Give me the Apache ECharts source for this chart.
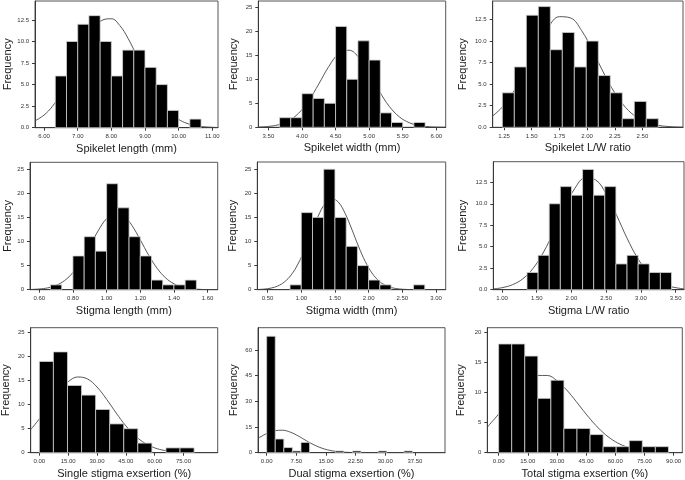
<!DOCTYPE html>
<html>
<head>
<meta charset="utf-8">
<title>Spikelet and stigma histograms</title>
<script src="https://cdn.jsdelivr.net/npm/echarts@6/dist/echarts.min.js"></script>
<style>
  html, body {margin:0; padding:0; background:#fff;}
  #chart {width:685px; height:480px;}
</style>
</head>
<body>
<div id="chart"></div>
<script>
// ---- data ----
// Spikelet length (mm)
var lenStart = 6.3333, lenWidth = 0.3333;
var lenCounts = [6, 10, 12, 13, 10, 6, 9, 9, 7, 5, 2, 0, 1];
var lenCurveX = [5.73, 6.0, 6.25, 6.5, 6.75, 7.0, 7.25, 7.5, 7.75, 8.0, 8.25, 8.5, 8.75, 9.0, 9.25, 9.5, 9.75, 10.0, 10.25, 10.5, 10.75, 11.0, 11.17];
var lenCurveY = [0.8, 1.47, 2.49, 3.92, 5.74, 7.79, 9.82, 11.5, 12.51, 12.64, 11.86, 10.34, 8.37, 6.3, 4.4, 2.85, 1.72, 0.96, 0.5, 0.24, 0.11, 0.05, 0.02];
var lenXTicks = [6, 7, 8, 9, 10, 11];

// Spikelet width (mm)
var widStart = 3.6667, widWidth = 0.16667;
var widCounts = [2, 2, 7, 6, 5, 21, 10, 18, 14, 3, 1, 0, 1];
var widCurveX = [3.35, 3.5, 3.65, 3.8, 3.95, 4.1, 4.25, 4.4, 4.55, 4.7, 4.85, 5.0, 5.15, 5.3, 5.45, 5.6, 5.75, 5.9, 6.05, 6.14];
var widCurveY = [0.05, 0.18, 0.53, 1.34, 2.93, 5.53, 9.01, 12.67, 15.36, 16.05, 14.47, 11.26, 7.55, 4.36, 2.18, 0.94, 0.35, 0.11, 0.03, 0.01];
var widXTicks = [3.5, 4, 4.5, 5, 5.5, 6];

// Spikelet L/W ratio
var slwStart = 1.235, slwWidth = 0.1083;
var slwCounts = [4, 7, 13, 14, 9, 11, 7, 10, 6, 4, 1, 3, 1];
var slwCurveX = [1.148, 1.25, 1.35, 1.45, 1.55, 1.65, 1.75, 1.85, 1.95, 2.05, 2.15, 2.25, 2.35, 2.45, 2.55, 2.65, 2.75, 2.866];
var slwCurveY = [1.31, 2.56, 4.42, 6.81, 9.4, 11.61, 12.83, 12.69, 11.23, 8.9, 6.3, 4.0, 2.27, 1.15, 0.52, 0.21, 0.08, 0.02];
var slwXTicks = [1.25, 1.5, 1.75, 2, 2.25, 2.5];

// Stigma length (mm)
var stlStart = 0.6667, stlWidth = 0.06667;
var stlCounts = [1, 0, 7, 11, 8, 22, 17, 11, 7, 2, 1, 1, 2];
var stlCurveX = [0.545, 0.6, 0.65, 0.7, 0.75, 0.8, 0.85, 0.9, 0.95, 1.0, 1.05, 1.1, 1.15, 1.2, 1.25, 1.3, 1.35, 1.4, 1.45, 1.5, 1.55, 1.6, 1.66];
var stlCurveY = [0.04, 0.15, 0.38, 0.9, 1.89, 3.56, 6.0, 9.06, 12.23, 14.77, 15.97, 15.44, 13.37, 10.35, 7.17, 4.45, 2.47, 1.23, 0.54, 0.22, 0.08, 0.02, 0];
var stlXTicks = [0.6, 0.8, 1.0, 1.2, 1.4, 1.6];

// Stigma width (mm)
var stwStart = 0.8333, stwWidth = 0.16667;
var stwCounts = [1, 16, 15, 25, 15, 9, 5, 2, 1, 0, 0, 1];
var stwCurveX = [0.347, 0.45, 0.55, 0.65, 0.75, 0.85, 0.95, 1.05, 1.15, 1.25, 1.35, 1.45, 1.55, 1.65, 1.75, 1.85, 1.95, 2.05, 2.15, 2.25, 2.35, 2.45, 2.55, 2.7, 3.144];
var stwCurveY = [0.04, 0.13, 0.33, 0.77, 1.61, 3.07, 5.31, 8.32, 11.82, 15.24, 17.82, 18.9, 18.17, 15.85, 12.54, 8.99, 5.85, 3.45, 1.85, 0.9, 0.4, 0.16, 0.06, 0.01, 0];
var stwXTicks = [0.5, 1, 1.5, 2, 2.5, 3];

// Stigma L/W ratio
var sglStart = 1.36, sglWidth = 0.16;
var sglCounts = [2, 4, 10, 12, 11, 14, 11, 12, 3, 4, 3, 2, 2];
var sglCurveX = [0.875, 1.0, 1.15, 1.3, 1.45, 1.6, 1.75, 1.9, 2.05, 2.2, 2.35, 2.5, 2.65, 2.8, 2.95, 3.1, 3.25, 3.4, 3.55, 3.62];
var sglCurveY = [0.1, 0.23, 0.58, 1.27, 2.51, 4.4, 6.87, 9.55, 11.81, 13.02, 12.77, 11.15, 8.67, 6.0, 3.7, 2.03, 0.99, 0.43, 0.17, 0.1];
var sglXTicks = [1, 1.5, 2, 2.5, 3, 3.5];

// Single stigma exsertion (%)
var sseStart = 0, sseWidth = 7.32;
var sseCounts = [19, 21, 14, 12, 9, 6, 5, 2, 0, 1, 1];
var sseCurveX = [-4.5, 0, 5, 10, 15, 20, 25, 30, 35, 40, 45, 50, 55, 60, 65, 70, 75, 80, 85, 92.8];
var sseCurveY = [4.82, 7.04, 9.87, 12.64, 14.77, 15.77, 15.37, 13.68, 11.13, 8.26, 5.6, 3.47, 1.96, 1.01, 0.48, 0.21, 0.08, 0.03, 0.01, 0];
var sseXTicks = [0, 15, 30, 45, 60, 75];

// Dual stigma exsertion (%)
var dseStart = 0, dseWidth = 2.17;
var dseCounts = [68, 8, 3, 1, 6, 0, 0, 0, 1, 0, 1, 0, 0, 1, 0, 0, 1];
var dseCurveX = [-2.19, 0, 2, 4, 6, 8, 10, 12, 14, 16, 18, 20, 22, 24, 27, 45.1];
var dseCurveY = [8.4, 11.18, 12.83, 13.13, 11.98, 9.74, 7.06, 4.56, 2.63, 1.35, 0.62, 0.25, 0.09, 0.03, 0, 0];
var dseXTicks = [0, 7.5, 15, 22.5, 30, 37.5];

// Total stigma exsertion (%)
var tseStart = 0, tseWidth = 6.72;
var tseCounts = [18, 18, 16, 9, 12, 4, 4, 3, 1, 1, 2, 1, 1];
var tseCurveX = [-5.83, 0, 5, 10, 15, 20, 25, 30, 35, 40, 45, 50, 55, 60, 65, 70, 75, 80, 85, 90, 94.5];
var tseCurveY = [4.24, 6.4, 8.44, 10.39, 11.93, 12.79, 12.79, 11.93, 10.39, 8.44, 6.4, 4.53, 2.99, 1.84, 1.06, 0.57, 0.28, 0.13, 0.06, 0.02, 0.01];
var tseXTicks = [0, 15, 30, 45, 60, 75, 90];

var yTicks125 = [0, 2.5, 5, 7.5, 10, 12.5];
var yTicks25 = [0, 5, 10, 15, 20, 25];
var yTicks60 = [0, 15, 30, 45, 60];
var yTicks20 = [0, 5, 10, 15, 20];

// ---- panel setup ----
var panels = [
  {title: 'Spikelet length (mm)', start: lenStart, width: lenWidth, counts: lenCounts, cx: lenCurveX, cy: lenCurveY, xt: lenXTicks, yt: yTicks125, xmin: 5.73, xmax: 11.17, ymax: 14.7, ydec: 1,
   box: [35, 1, 183, 126.7], gap: 21.5},
  {title: 'Spikelet width (mm)', start: widStart, width: widWidth, counts: widCounts, cx: widCurveX, cy: widCurveY, xt: widXTicks, yt: yTicks25, xmin: 3.35, xmax: 6.14, ymax: 26.3, ydec: 0,
   box: [258.3, 1, 187.4, 126.3], gap: 19},
  {title: 'Spikelet L/W ratio', start: slwStart, width: slwWidth, counts: slwCounts, cx: slwCurveX, cy: slwCurveY, xt: slwXTicks, yt: yTicks125, xmin: 1.148, xmax: 2.866, ymax: 14.65, ydec: 1,
   box: [492.7, 1, 190.3, 126.3], gap: 24},
  {title: 'Stigma length (mm)', start: stlStart, width: stlWidth, counts: stlCounts, cx: stlCurveX, cy: stlCurveY, xt: stlXTicks, yt: yTicks25, xmin: 0.545, xmax: 1.66, ymax: 26.45, ydec: 0,
   box: [30, 162.3, 187.7, 127.4], gap: 16.5},
  {title: 'Stigma width (mm)', start: stwStart, width: stwWidth, counts: stwCounts, cx: stwCurveX, cy: stwCurveY, xt: stwXTicks, yt: yTicks25, xmin: 0.347, xmax: 3.144, ymax: 26.5, ydec: 0,
   box: [257.3, 162, 188.4, 127.7], gap: 18.5},
  {title: 'Stigma L/W ratio', start: sglStart, width: sglWidth, counts: sglCounts, cx: sglCurveX, cy: sglCurveY, xt: sglXTicks, yt: yTicks125, xmin: 0.875, xmax: 3.62, ymax: 14.9, ydec: 1,
   box: [493.3, 161.7, 190.7, 128], gap: 24.5},
  {title: 'Single stigma exsertion (%)', start: sseStart, width: sseWidth, counts: sseCounts, cx: sseCurveX, cy: sseCurveY, xt: sseXTicks, yt: yTicks25, xmin: -4.5, xmax: 92.8, ymax: 26.04, ydec: 0,
   box: [30.7, 327.7, 187, 125], gap: 19},
  {title: 'Dual stigma exsertion (%)', start: dseStart, width: dseWidth, counts: dseCounts, cx: dseCurveX, cy: dseCurveY, xt: dseXTicks, yt: yTicks60, xmin: -2.19, xmax: 45.1, ymax: 73, ydec: 0,
   box: [258, 327.7, 187, 125], gap: 19},
  {title: 'Total stigma exsertion (%)', start: tseStart, width: tseWidth, counts: tseCounts, cx: tseCurveX, cy: tseCurveY, xt: tseXTicks, yt: yTicks20, xmin: -5.83, xmax: 94.5, ymax: 20.7, ydec: 0,
   box: [487.3, 327.7, 195, 125], gap: 20.5}
];

var FONT = '"Liberation Sans", Arial, Helvetica, sans-serif';
var AXIS_COLOR = '#3a3a3a';

function renderBin(params, api) {
  var p0 = api.coord([api.value(0), api.value(2)]);
  var p1 = api.coord([api.value(1), 0]);
  return {
    type: 'rect',
    shape: {x: p0[0], y: p0[1], width: p1[0] - p0[0], height: p1[1] - p0[1]},
    style: {fill: '#000', stroke: '#d0d0d0', lineWidth: 0.8}
  };
}

var grids = [], xAxes = [], yAxes = [], series = [];
panels.forEach(function (p, i) {
  grids.push({
    left: p.box[0], top: p.box[1], width: p.box[2], height: p.box[3],
    show: true, borderColor: '#555', borderWidth: 1, backgroundColor: 'transparent',
    outerBoundsMode: 'none'
  });
  xAxes.push({
    gridIndex: i, type: 'value', min: p.xmin, max: p.xmax,
    name: p.title, nameLocation: 'middle', nameGap: 15.5,
    nameTextStyle: {fontFamily: FONT, fontSize: 11, color: '#1a1a1a'},
    axisLine: {show: true, onZero: false, lineStyle: {color: AXIS_COLOR, width: 1}},
    axisTick: {show: true, length: 3, customValues: p.xt, lineStyle: {color: AXIS_COLOR}},
    axisLabel: {customValues: p.xt, fontFamily: FONT, fontSize: 6, color: '#333', margin: 6,
      formatter: function (v) { return v.toFixed(2); }},
    splitLine: {show: false}
  });
  yAxes.push({
    gridIndex: i, type: 'value', min: 0, max: p.ymax,
    name: 'Frequency', nameLocation: 'middle', nameGap: p.gap,
    nameTextStyle: {fontFamily: FONT, fontSize: 11, color: '#1a1a1a'},
    axisLine: {show: true, onZero: false, lineStyle: {color: AXIS_COLOR, width: 1}},
    axisTick: {show: true, length: 3, customValues: p.yt, lineStyle: {color: AXIS_COLOR}},
    axisLabel: {customValues: p.yt, fontFamily: FONT, fontSize: 6, color: '#333', margin: 6,
      formatter: function (v) { return v.toFixed(p.ydec); }},
    splitLine: {show: false}
  });

  var curve = p.cx.map(function (x, k) { return [x, p.cy[k]]; });
  series.push({
    type: 'line', xAxisIndex: i, yAxisIndex: i, data: curve,
    smooth: 0.4, showSymbol: false, silent: true, z: 1,
    lineStyle: {color: '#444', width: 0.9}
  });

  var bins = [];
  p.counts.forEach(function (c, k) {
    if (c > 0) bins.push([p.start + k * p.width, p.start + (k + 1) * p.width, c]);
  });
  series.push({
    type: 'custom', xAxisIndex: i, yAxisIndex: i, data: bins,
    renderItem: renderBin, encode: {x: [0, 1], y: 2}, z: 2, silent: true
  });
});

var chart = echarts.init(document.getElementById('chart'), null, {renderer: 'canvas'});
chart.setOption({
  animation: false,
  backgroundColor: '#fff',
  grid: grids,
  xAxis: xAxes,
  yAxis: yAxes,
  series: series
});
</script>
</body>
</html>
